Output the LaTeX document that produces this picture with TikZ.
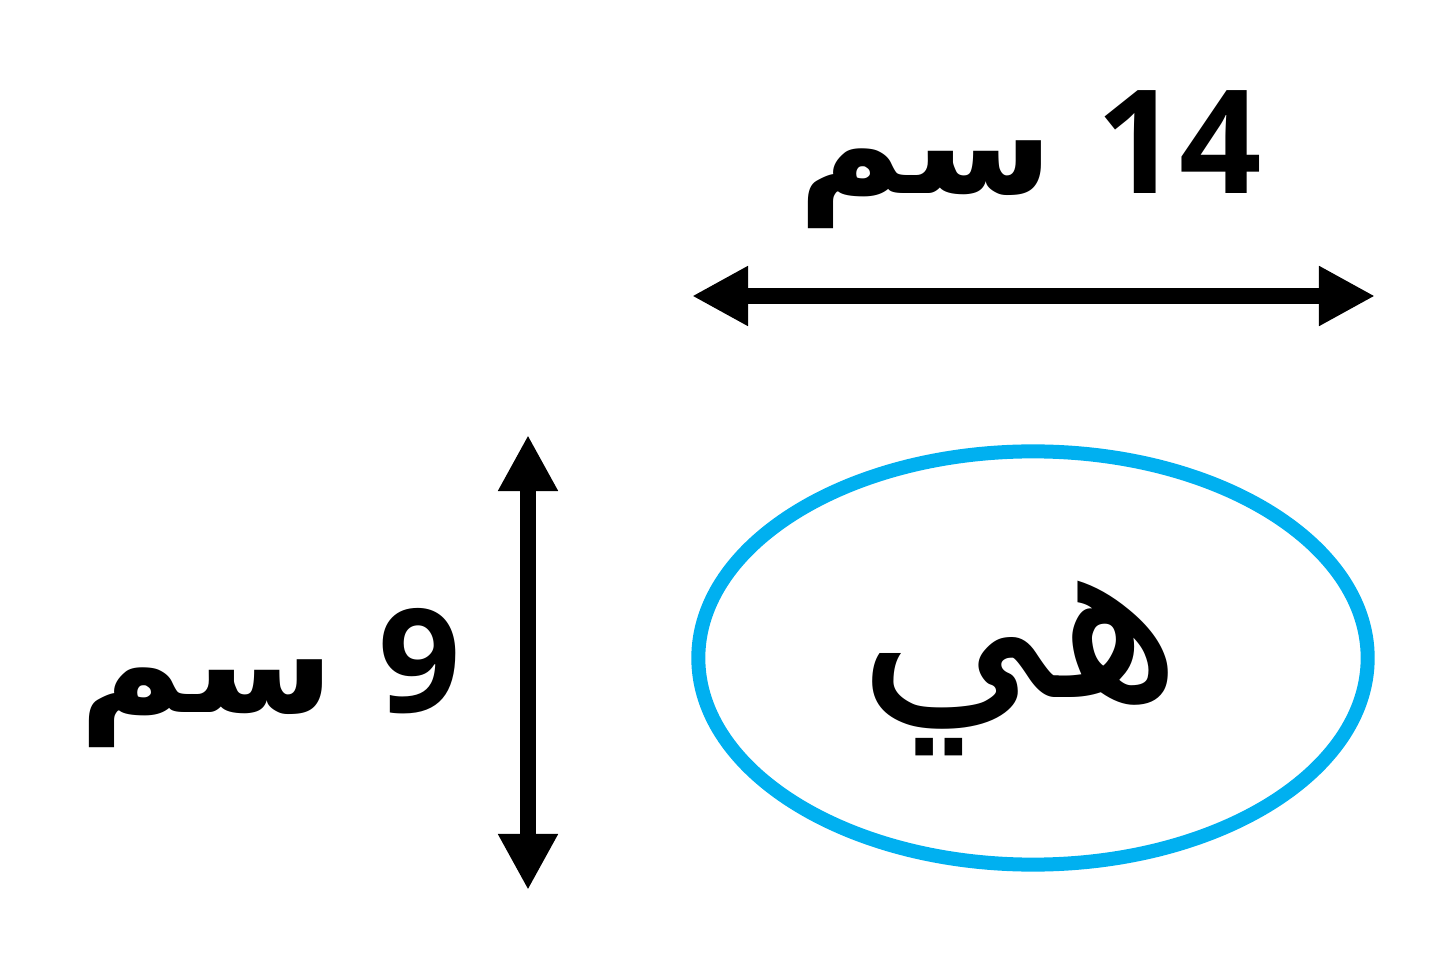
\documentclass[tikz,border=0pt]{standalone}
\usepackage{fontspec}
\usetikzlibrary{arrows.meta}
\usetikzlibrary{positioning}
\usetikzlibrary{shapes.geometric}
\TeXXeTstate=1
\newfontfamily\arabicfont[Script=Arabic]{DejaVu Sans}
\newfontfamily\digitfont{Open Sans}
\definecolor{ringblue}{HTML}{00B0F0}
\tikzset{
    dimarrow/.style={
        {Triangle[length=0.56cm, width=0.56cm]}-{Triangle[length=0.56cm, width=0.56cm]},
        line width=0.16cm, draw=black,
    },
    dimlabel/.style={
        inner sep=0pt, text=black,
        font=\fontsize{41}{50}\selectfont,
    },
}
\begin{document}
\begin{tikzpicture}[x=0.01cm, y=-0.01cm]
        \useasboundingbox (0,0) rectangle (1445,967);

        % width arrow and label
        \coordinate (wleft) at (692,296);
        \coordinate (wright) at (1375,296);
        \draw[dimarrow] (wleft) -- (wright);
        \node (widthlabel) at (1030,160) [dimlabel]
            {\beginR\beginL{\digitfont\bfseries 14}\endL\ {\arabicfont\bfseries سم}\endR};

        % height arrow and label
        \coordinate (htop) at (528,435);
        \coordinate (hbottom) at (528,890);
        \draw[dimarrow] (htop) -- (hbottom);
        \node (heightlabel) at (270,678) [dimlabel]
            {\beginR\beginL{\digitfont\bfseries 9}\endL\ {\arabicfont\bfseries سم}\endR};

        % the ellipse
        \node (ring) at (1033,658) [
            ellipse,
            minimum width=6.69cm, minimum height=4.13cm,
            draw=ringblue, line width=0.14cm,
        ] {};
        \node (word) at (1020,668) [
            inner sep=0pt, text=black,
            font=\fontsize{68}{76}\selectfont,
        ] {\arabicfont\beginR هي\endR};
    \end{tikzpicture}
\end{document}
